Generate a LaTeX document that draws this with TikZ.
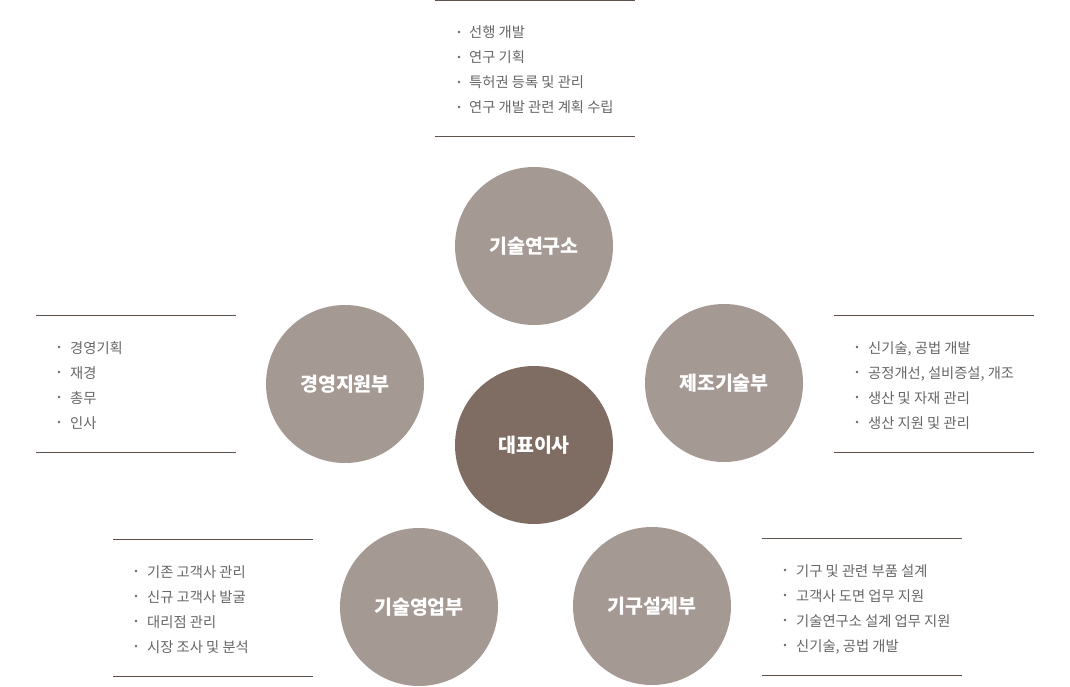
\documentclass[tikz,border=0pt]{standalone}
\usepackage{fontspec}
\setmainfont{Noto Sans CJK KR}
\definecolor{outerc}{HTML}{A59993}
\definecolor{innerc}{HTML}{7F6C63}
\definecolor{linec}{HTML}{5E524C}
\definecolor{textc}{HTML}{666666}
\tikzset{
  dept/.style={circle, minimum size=158pt, inner sep=0pt, fill=outerc, text=white, font=\fontsize{19.5}{21}\selectfont\bfseries},
  ceo/.style={dept, fill=innerc},
  rule/.style={draw=linec, line width=1pt},
  item/.style={anchor=base west, inner sep=0pt, text=textc, font=\fontsize{14.3}{16}\selectfont},
  bul/.style={circle, fill=textc, inner sep=0pt, minimum size=2.6pt},
}
\begin{document}
\begin{tikzpicture}[x=1pt,y=-1pt]
\useasboundingbox (0,0) rectangle (1070,687);
% circles
\node[dept] (lab) at (534,246) {기술연구소};
\node[dept] (mfg) at (724,383) {제조기술부};
\node[dept] (mgmt) at (345,384) {경영지원부};
\node[ceo] (ceo) at (534,445) {대표이사};
\node[dept] (sales) at (419,607) {기술영업부};
\node[dept] (design) at (652,606) {기구설계부};

% top list
\coordinate (t1) at (435,0.5); \coordinate (t2) at (635,0.5);
\coordinate (t3) at (435,137); \coordinate (t4) at (635,137);
\draw[rule] (t1) -- (t2); \draw[rule] (t3) -- (t4);
\foreach \y/\t [count=\i] in {32/선행 개발,57/연구 기획,82/특허권 등록 및 관리,107/연구 개발 관련 계획 수립}{
  \node[bul] (tb\i) at (459,\y) {};
  \node[item] (ti\i) at (469,\y+6) {\t};
}

% left list
\coordinate (l1) at (36,315); \coordinate (l2) at (236,315);
\coordinate (l3) at (36,452); \coordinate (l4) at (236,452);
\draw[rule] (l1) -- (l2); \draw[rule] (l3) -- (l4);
\foreach \y/\t [count=\i] in {347/경영기획,372/재경,397/총무,422/인사}{
  \node[bul] (lb\i) at (59,\y) {};
  \node[item] (li\i) at (70,\y+6) {\t};
}

% right list
\coordinate (r1) at (834,315); \coordinate (r2) at (1034,315);
\coordinate (r3) at (834,452); \coordinate (r4) at (1034,452);
\draw[rule] (r1) -- (r2); \draw[rule] (r3) -- (r4);
\foreach \y/\t [count=\i] in {347/{신기술, 공법 개발},372/{공정개선, 설비증설, 개조},397/생산 및 자재 관리,422/생산 지원 및 관리}{
  \node[bul] (rb\i) at (857,\y) {};
  \node[item] (ri\i) at (868,\y+6) {\t};
}

% bottom-left list
\coordinate (bl1) at (113,539); \coordinate (bl2) at (313,539);
\coordinate (bl3) at (113,676); \coordinate (bl4) at (313,676);
\draw[rule] (bl1) -- (bl2); \draw[rule] (bl3) -- (bl4);
\foreach \y/\t [count=\i] in {571/기존 고객사 관리,596/신규 고객사 발굴,621/대리점 관리,646/시장 조사 및 분석}{
  \node[bul] (blb\i) at (136,\y) {};
  \node[item] (bli\i) at (147,\y+6) {\t};
}

% bottom-right list
\coordinate (br1) at (762,538); \coordinate (br2) at (962,538);
\coordinate (br3) at (762,675); \coordinate (br4) at (962,675);
\draw[rule] (br1) -- (br2); \draw[rule] (br3) -- (br4);
\foreach \y/\t [count=\i] in {570/기구 및 관련 부품 설계,595/고객사 도면 업무 지원,620/기술연구소 설계 업무 지원,645/{신기술, 공법 개발}}{
  \node[bul] (brb\i) at (785,\y) {};
  \node[item] (bri\i) at (796,\y+6) {\t};
}
\end{tikzpicture}
\end{document}
